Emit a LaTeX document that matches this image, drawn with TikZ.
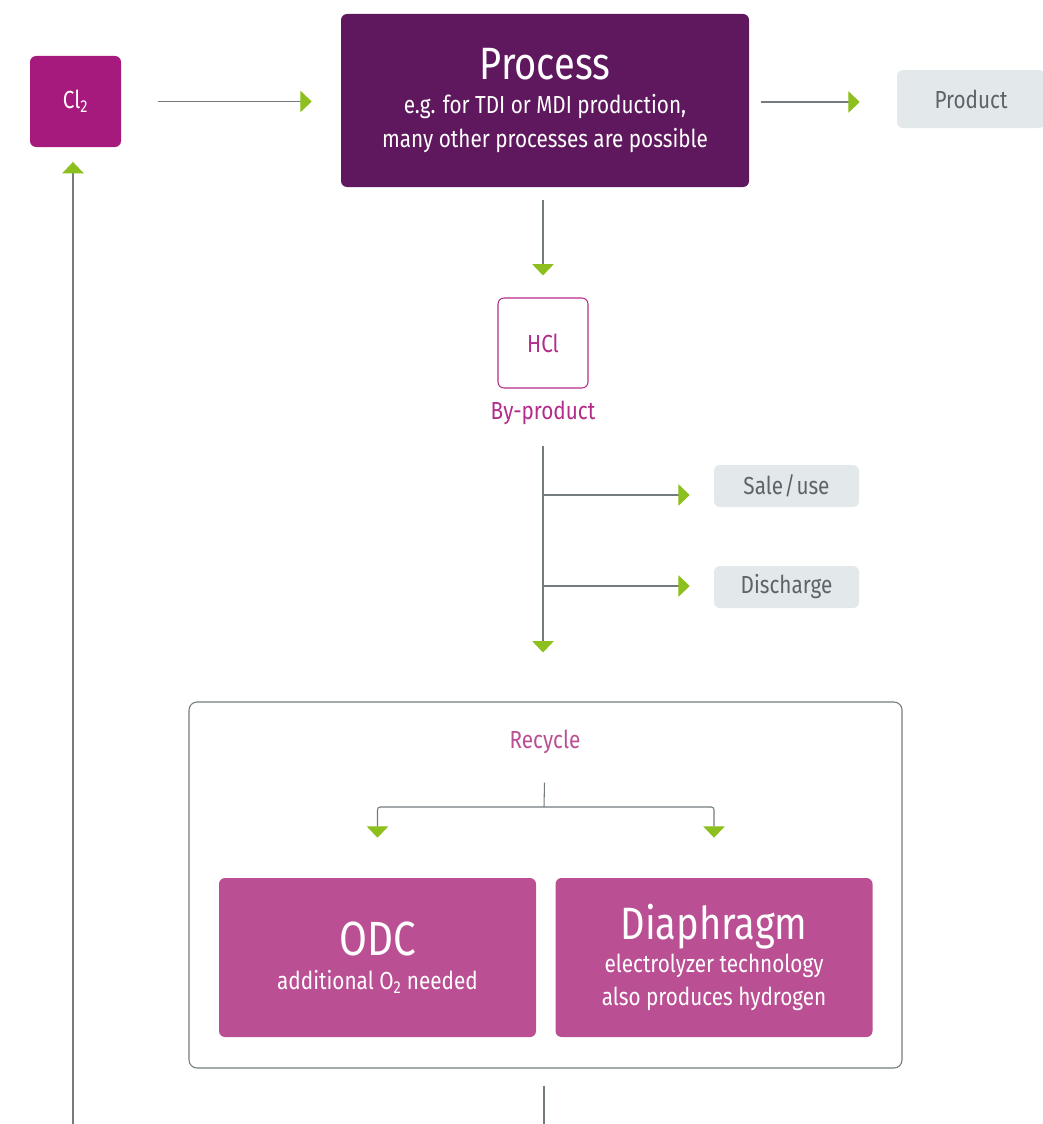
\documentclass[tikz,border=0pt]{standalone}
\usepackage{fontspec}
\setmainfont{Fira Sans}[FakeStretch=0.84]
\usetikzlibrary{arrows.meta}
\definecolor{clfill}{HTML}{A6197D}
\definecolor{procfill}{HTML}{5F185E}
\definecolor{pinkfill}{HTML}{BA4F94}
\definecolor{magtext}{HTML}{B22C8A}
\definecolor{greyfill}{HTML}{E3E8EB}
\definecolor{greytext}{HTML}{5B6569}
\definecolor{linegrey}{HTML}{737B7F}
\definecolor{tipgreen}{HTML}{8DBF1F}

\begin{document}
\begin{tikzpicture}[x=0.75pt,y=-0.75pt,
  box/.style={rounded corners=4.5pt,inner sep=0pt,align=center},
  txt/.style={font=\fontsize{18.5}{25}\selectfont},
  outbox/.style={box,txt,fill=greyfill,text=greytext,minimum width=108.75pt,minimum height=31.5pt},
  bigbox/.style={box,txt,fill=pinkfill,text=white,minimum width=237.75pt,minimum height=119.25pt},
  conn/.style={draw=linegrey,line width=0.8pt},
  flow/.style={conn,-{Triangle[length=8.5pt,width=16pt,color=tipgreen]}}]
\useasboundingbox (0,0) rectangle (1042,1124);

\path (75.5,101.5) node[box,txt,fill=clfill,minimum size=68.25pt,text=white] (cl2) {Cl\textsubscript{2}};
\path (545,100.5) node[box,fill=procfill,minimum width=306pt,minimum height=129.75pt,text=white,font=\fontsize{18.5}{25.5}\selectfont] (proc)
  {{\fontsize{34}{34}\selectfont Process}\\e.g. for TDI or MDI production,\\many other processes are possible};
\path (971,99) node[outbox,minimum width=111pt,minimum height=43.5pt] (prod) {Product};
\coordinate (p1) at (749,102);
\draw[flow,shorten <=27.75pt,shorten >=21.75pt] (cl2.east) -- (cl2.east -| proc.west);
\draw[flow,shorten <=9pt,shorten >=27.75pt] (p1) -- (p1 -| prod.west);

\path (543,343) node[box,txt,draw=magtext,line width=0.8pt,minimum size=67.5pt,text=magtext] (hcl) {HCl};
\path (543,413) node[txt,text=magtext] (bp) {By-product};
\draw[flow,shorten <=9.75pt,shorten >=16.5pt] (proc.south -| hcl.north) -- (hcl.north);

\path (786.5,486) node[outbox] (sale) {Sale\kern1pt/\kern1pt use};
\path (786.5,587) node[outbox] (dis) {Discharge};
\path (545.5,885) node[box,draw=linegrey,line width=0.8pt,rounded corners=6pt,minimum width=534.75pt,minimum height=274.5pt] (frame) {};
\coordinate (b1) at (543,495);
\coordinate (b2) at (543,586);
\draw[flow,shorten <=12pt,shorten >=36.75pt] (bp.south) -- (bp.south |- frame.north);
\draw[flow,shorten >=18pt] (b1) -- (b1 -| sale.west);
\draw[flow,shorten >=18pt] (b2) -- (b2 -| dis.west);

\path (545,742) node[txt,text=pinkfill] (rec) {Recycle};
\path (377.5,957.5) node[bigbox] (odc) {{\fontsize{36}{40}\selectfont ODC}\\[1pt]additional O\textsubscript{2} needed};
\path (714,957.5) node[bigbox,font=\fontsize{18.5}{25}\selectfont] (dia) {{\fontsize{34}{36}\selectfont Diaphragm}\\electrolyzer technology\\also produces hydrogen};
\coordinate (fork) at (544,807);
\draw[conn,shorten <=18pt] (rec.south) -- (fork);
\draw[flow,rounded corners=2pt,shorten >=30pt] (fork) -| (odc.north);
\draw[flow,rounded corners=2pt,shorten >=30pt] (fork) -| (dia.north);

\coordinate (out) at (544,1130);
\coordinate (loop) at (73,1130);
\draw[conn,shorten <=12.75pt] (frame.south -| out) -- (out);
\draw[flow,shorten >=11pt] (loop) -- (loop |- cl2.south);
\end{tikzpicture}
\end{document}
